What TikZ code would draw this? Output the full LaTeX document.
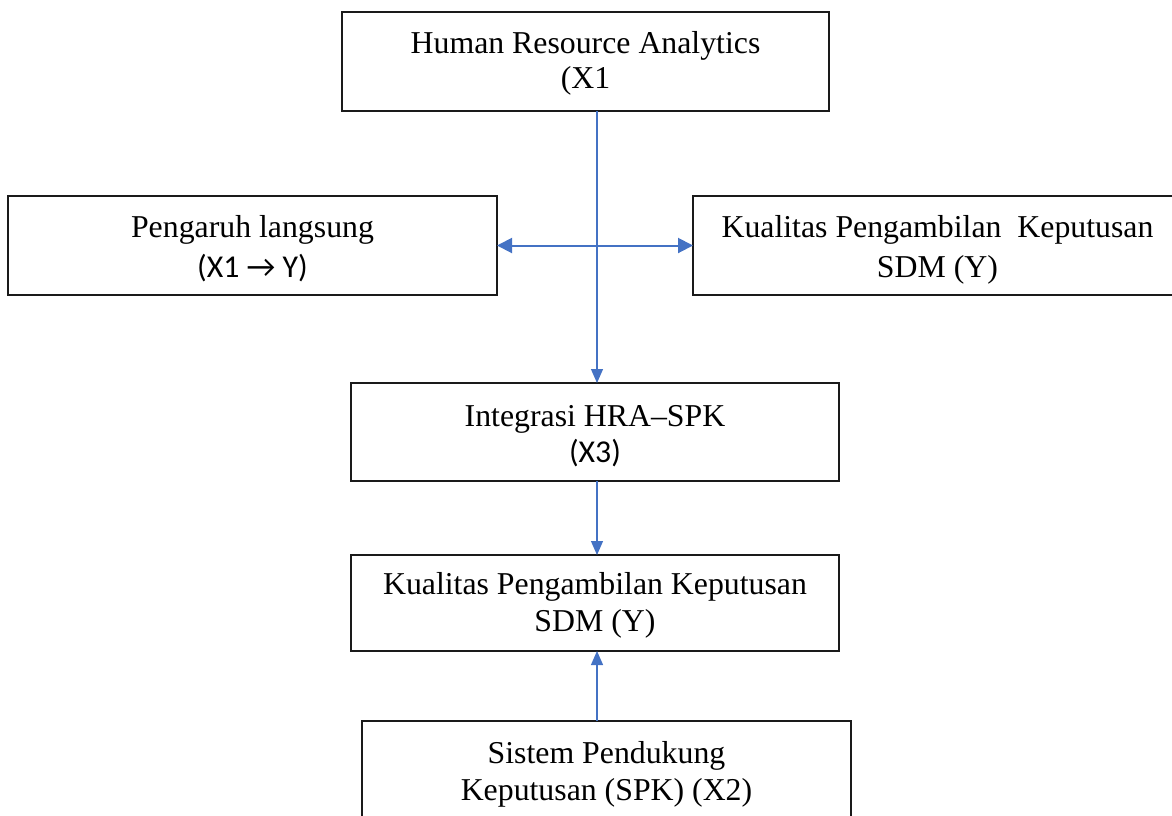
\documentclass[tikz,border=0pt]{standalone}
\usepackage{fontspec}
\setmainfont{Liberation Serif}
\newfontfamily\calfont{Carlito}
\usetikzlibrary{arrows.meta}
\definecolor{conn}{HTML}{4472C4}
\definecolor{edge}{HTML}{1A1A1A}
\newcommand{\dn}[1]{\rule{0pt}{#1}}
\tikzset{
  box/.style={draw=edge, line width=1.3pt, rectangle, inner sep=0pt, outer sep=0pt,
    align=center, font=\fontsize{31.8}{35}\selectfont},
  link/.style={draw=conn, line width=1.2pt, -{Triangle[length=14pt,width=12pt]}},
  dlink/.style={draw=conn, line width=2pt, {Triangle[length=15pt,width=15pt]}-{Triangle[length=15pt,width=15pt]}}
}
\begin{document}
\begin{tikzpicture}[x=1pt,y=-1pt]
\useasboundingbox (0,0) rectangle (1172,815);
\node[box, minimum width=487pt, minimum height=99pt] (hra) at (585.5,61.5)
  {\dn{26pt}Human Resource Analytics\\(X1};
\node[box, minimum width=489pt, minimum height=99pt] (pl) at (252.5,245.5)
  {\dn{29pt}Pengaruh langsung\\[5pt]{\calfont (X1 → Y)}};
\node[box, minimum width=489pt, minimum height=99pt] (kr) at (937.5,245.5)
  {\dn{30pt}Kualitas Pengambilan\ \ Keputusan\\[5pt]SDM (Y)};
\node[box, minimum width=488pt, minimum height=98pt] (integ) at (595,432)
  {\dn{29pt}Integrasi HRA–SPK\\[1pt]{\calfont (X3)}};
\node[box, minimum width=488pt, minimum height=96pt] (kb) at (595,603)
  {\dn{27pt}Kualitas Pengambilan Keputusan\\[2pt]SDM (Y)};
\node[box, minimum width=489pt, minimum height=99pt] (spk) at (606.5,770.5)
  {\dn{30pt}Sistem Pendukung\\[2pt]Keputusan (SPK) (X2)};
\coordinate (axis) at (597,245.5);
\draw[link] (hra.south -| axis) -- (integ.north -| axis);
\draw[dlink] (pl.east) -- (kr.west);
\draw[link] (integ.south -| axis) -- (kb.north -| axis);
\draw[link] (spk.north -| axis) -- (kb.south -| axis);
\end{tikzpicture}
\end{document}
